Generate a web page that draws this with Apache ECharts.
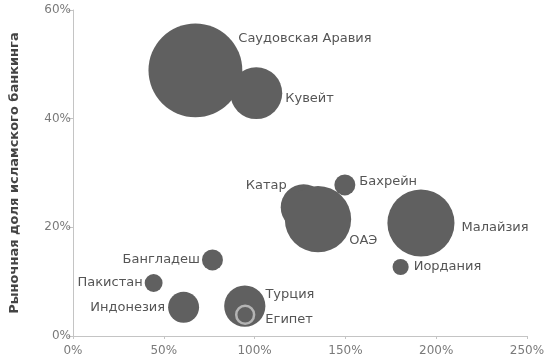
<!DOCTYPE html>
<html><head><meta charset="utf-8">
<script src="https://cdn.jsdelivr.net/npm/echarts@6/dist/echarts.min.js"></script>
<style>html,body{margin:0;padding:0;background:#fff}#c{width:551px;height:362px}</style>
</head><body><div id="c"></div>
<script>
const countries = ['Саудовская Аравия','Кувейт','Катар','ОАЭ','Бахрейн','Малайзия','Иордания','Бангладеш','Пакистан','Индонезия','Турция','Египет'];
const growth = [67.4, 100.9, 127, 134.9, 149.7, 191.6, 180.4, 76.8, 44.4, 60.9, 94.6, 94.8];
const share = [48.9, 44.7, 23.7, 21.5, 27.8, 20.8, 12.7, 14.0, 9.75, 5.3, 5.5, 3.9];
const weight = [88, 27, 21, 44, 4.4, 45, 2.6, 4.4, 3.2, 9.6, 17, 3.2];
const yTitle = 'Рыночная доля исламского банкинга';

const labelCfg = {
  'Саудовская Аравия': {position:'right', distance:-4, offset:[0,-32]},
  'Кувейт': {position:'right', distance:3, offset:[0,5]},
  'Катар': {position:'left', distance:-6, offset:[0,-22]},
  'ОАЭ': {position:'right', distance:-2, offset:[0,21]},
  'Бахрейн': {position:'right', distance:4, offset:[0,-3]},
  'Малайзия': {position:'right', distance:7, offset:[0,5]},
  'Иордания': {position:'right', distance:5, offset:[0,0]},
  'Бангладеш': {position:'left', distance:2, offset:[0,0]},
  'Пакистан': {position:'left', distance:2, offset:[0,0]},
  'Индонезия': {position:'left', distance:3, offset:[0,0]},
  'Турция': {position:'right', distance:0, offset:[0,-11]},
  'Египет': {position:'right', distance:10, offset:[0,5]}
};

const data = countries.map((n,i)=>{
  const item = {name:n, value:[growth[i], share[i], weight[i]], label:labelCfg[n]};
  if (n === 'Египет') item.itemStyle = {borderColor:'#b4b4b4', borderWidth:2.5};
  return item;
});

const chart = echarts.init(document.getElementById('c'), null, {renderer:'canvas'});
const axisText = {color:'#7a7a7a', fontSize:12, fontFamily:'DejaVu Sans'};
chart.setOption({
  animation:false,
  grid:{left:70, right:24, top:10, bottom:26, containLabel:false},
  xAxis:{type:'value', min:0, max:250, interval:50,
    axisLine:{show:true, lineStyle:{color:'#c4c4c4'}},
    axisTick:{show:true, length:3, lineStyle:{color:'#c4c4c4'}},
    splitLine:{show:false},
    axisLabel:Object.assign({formatter:'{value}%', margin:9}, axisText)},
  yAxis:{type:'value', min:0, max:60, interval:20,
    name:yTitle, nameLocation:'middle', nameGap:52,
    nameTextStyle:{color:'#444', fontSize:13, fontWeight:'bold', fontFamily:'DejaVu Sans'},
    axisLine:{show:true, lineStyle:{color:'#c4c4c4'}},
    axisTick:{show:true, length:5, lineStyle:{color:'#c4c4c4'}},
    splitLine:{show:false},
    axisLabel:Object.assign({formatter:'{value}%', margin:2}, axisText)},
  series:[{
    type:'scatter',
    data:data,
    symbolSize:v=>10*Math.sqrt(v[2]),
    itemStyle:{color:'#606060', opacity:1},
    label:{show:true, formatter:'{b}', color:'#555', fontSize:13, fontFamily:'DejaVu Sans'},
    emphasis:{disabled:true}
  }]
});
</script></body></html>
